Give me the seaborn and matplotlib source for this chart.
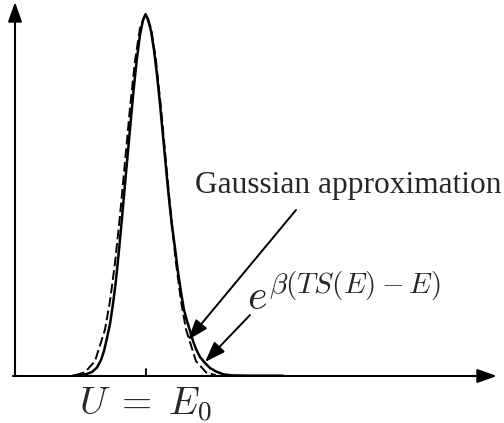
import numpy as np
import pandas as pd
import seaborn as sns
import matplotlib.pyplot as plt

# curve samples: position along the axis, height above the axis
exact_x = [73, 80, 86, 92, 97, 101, 104, 107, 110, 113, 116, 119, 122, 125, 128, 131,
           134, 137, 140, 143, 145.5, 148, 151, 154, 157, 160, 163, 166, 169, 172, 175,
           178, 181, 184, 187, 190, 193, 196, 200, 205, 210, 216, 224, 232, 250, 283]
exact_y = [0.3, 0.8, 1.8, 4, 8.5, 16, 25, 38, 52, 72, 96, 126, 158, 192, 225, 258,
           290, 318, 341, 356, 361.7, 357, 345, 326, 301, 272, 240, 208, 177, 150, 128,
           104, 84, 66, 55, 45, 35, 27, 19, 13, 8, 4.5, 1.5, 0.6, 0.3, 0.3]

gauss_x = [75, 85, 95, 105, 110, 115, 120, 125, 130, 135, 140, 145.5,
           151, 156, 161, 166, 171, 176, 181, 186, 196, 206, 216]
gauss_y = [0.7, 3.7, 14.9, 46.5, 74.9, 113, 160.5, 214, 268, 315, 348, 361.7,
           348, 315, 268, 214, 160.5, 113, 74.9, 46.5, 14.9, 3.7, 0.7]

tick_pos = [145.5]
tick_label = r'$U\;=\;E_0$'
gauss_label = 'Gaussian approximation'
exact_label = r'$e^{\beta(TS(E)-E)}$'

sns.set_style('white')
plt.rcParams['mathtext.fontset'] = 'cm'

fig = plt.figure(figsize=(5.04, 4.23), dpi=100)
ax = fig.add_axes([0, 0, 1, 1])

exact = pd.DataFrame({'x': exact_x, 'y': exact_y})
gauss = pd.DataFrame({'x': gauss_x, 'y': gauss_y})
sns.lineplot(data=exact, x='x', y='y', sort=False, estimator=None, color='black', lw=1.8, ax=ax)
sns.lineplot(data=gauss, x='x', y='y', sort=False, estimator=None, color='black', lw=1.4,
             dashes=False, ax=ax, linestyle=(0, (5, 2)))

ax.set_xlim(0, 504)
ax.set_ylim(-47, 376)
ax.axis('off')

# axes with arrow heads
axis_arrow = dict(arrowstyle='-|>,head_length=0.85,head_width=0.3', color='black', lw=1.5,
                  mutation_scale=14, shrinkA=0, shrinkB=0)
ax.annotate('', xy=(497, 0), xytext=(13, 0), arrowprops=axis_arrow)
ax.annotate('', xy=(15, 374), xytext=(15, 0), arrowprops=axis_arrow)
for t in tick_pos:
    ax.plot([t, t], [0, 7], color='black', lw=1.3)
ax.text(tick_pos[0], -29, tick_label, ha='center', va='center', fontsize=28)

# labels with pointers
ptr = dict(arrowstyle='-|>,head_length=0.9,head_width=0.32', color='black', lw=1.4,
           mutation_scale=14, shrinkA=0, shrinkB=0)
ax.text(195, 183, gauss_label, ha='left', va='baseline', fontsize=22.6,
        family=['Liberation Serif', 'DejaVu Serif'])
ax.annotate('', xy=(188, 36), xytext=(296, 166), arrowprops=ptr)
ax.text(247, 66, exact_label, ha='left', va='baseline', fontsize=30)
ax.annotate('', xy=(205, 14), xytext=(250, 61), arrowprops=ptr)

fig.savefig('out.png', dpi=100, facecolor='white')
